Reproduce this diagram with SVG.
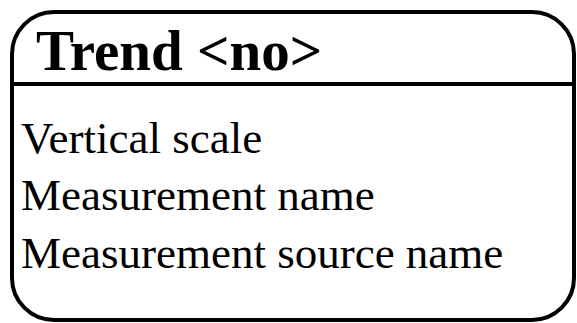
<svg xmlns="http://www.w3.org/2000/svg" width="577" height="323" viewBox="0 0 577 323">
<style>
.box{fill:#fff;stroke:#000;stroke-width:4}
.div{stroke:#000;stroke-width:4}
.title{font-family:"Liberation Serif",serif;font-weight:bold;font-size:57px;fill:#000}
.attr{font-family:"Liberation Serif",serif;font-size:45px;fill:#000}
</style>
<rect width="577" height="323" fill="#fff"/>
<g id="trend">
<rect class="box" x="12" y="12" width="562" height="308" rx="42" ry="42"/>
<line class="div" x1="12" y1="84" x2="574" y2="84"/>
<text class="title" x="36" y="70">Trend &lt;no&gt;</text>
<text class="attr" x="21" y="153">Vertical scale</text>
<text class="attr" x="21" y="210">Measurement name</text>
<text class="attr" x="21" y="268">Measurement source name</text>
</g>
<g id="connectors"/>
</svg>
